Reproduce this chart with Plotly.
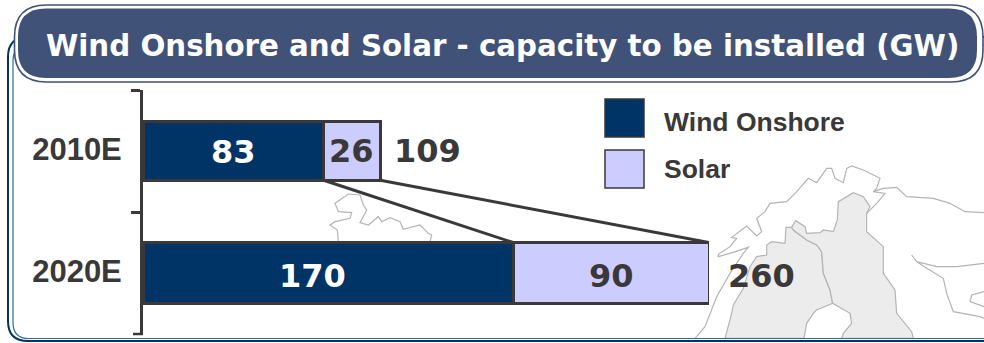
import plotly.graph_objects as go

years = ["2010E", "2020E"]
wind = [83, 170]
solar = [26, 90]
totals = [109, 260]
series_names = ["Wind Onshore", "Solar"]
title_text = "Wind Onshore and Solar - capacity to be installed (GW)"

W, H = 984, 343
L, R, T, B = 143, 709, 90, 334
NAVY, LAV, INK, GREY = "#003366", "#ccccff", "#3a3838", "#b4b4b4"
BAR_W = [0.48, 0.5]

def px(x): return (x - L) / (R - L)
def py(y): return 1 - (y - T) / (B - T)

def path(points, close=False):
    s = "M" + " L".join(f"{px(x):.5f},{py(y):.5f}" for x, y in points)
    return s + (" Z" if close else "")

def rrect(x0, y0, x1, y1, r):
    return (f"M{px(x0+r):.5f},{py(y0):.5f} L{px(x1-r):.5f},{py(y0):.5f} "
            f"Q{px(x1):.5f},{py(y0):.5f} {px(x1):.5f},{py(y0+r):.5f} "
            f"L{px(x1):.5f},{py(y1-r):.5f} Q{px(x1):.5f},{py(y1):.5f} {px(x1-r):.5f},{py(y1):.5f} "
            f"L{px(x0+r):.5f},{py(y1):.5f} Q{px(x0):.5f},{py(y1):.5f} {px(x0):.5f},{py(y1-r):.5f} "
            f"L{px(x0):.5f},{py(y0+r):.5f} Q{px(x0):.5f},{py(y0):.5f} {px(x0+r):.5f},{py(y0):.5f} Z")

def zm(points, ox=650, oy=150):
    return [(ox + a / 3, oy + b / 3) for a, b in points]

region_a = zm([(225,565),(245,490),(250,465),(280,415),(300,350),(320,320),(350,315),(350,285),(365,275),(405,280),(408,232),(425,232),(430,240),(470,270),(500,285),(515,305),(520,370),(540,420),(548,460),(500,480),(490,490),(470,520),(462,565)])
region_b = zm([(425,232),(437,212),(465,230),(470,250),(510,248),(520,240),(550,245),(562,210),(565,155),(610,128),(640,140),(660,170),(650,190),(650,245),(700,290),(700,370),(735,420),(740,490),(785,545),(790,565),(575,565),(580,550),(605,520),(600,490),(548,460),(540,420),(520,370),(515,305),(500,285),(470,270),(430,240)])
coast = zm([(135,565),(165,530),(200,440),(240,370),(280,310),(295,292),(240,310),(205,320),(205,313),(240,290),(260,265),(245,262),(290,228),(320,258),(335,245),(320,205),(345,185),(360,160),(410,155),(440,125),(475,85),(500,98),(530,55),(545,55),(555,85),(580,98),(590,55),(605,48),(640,60),(690,85),(680,115),(670,125),(700,115),(740,112),(770,140),(850,145),(900,160),(945,185),(1002,188)])
north = zm([(650,190),(680,160),(705,130),(670,125)])
east1 = zm([(1002,340),(920,350),(860,350),(800,335),(785,315),(800,335),(830,355),(880,385),(890,430),(910,485),(990,500),(1002,505)])
east2 = zm([(1002,425),(965,435),(960,455),(1002,470)])
small = zm([(55,215),(52,180),(30,165),(45,155),(90,145),(95,128),(55,125),(45,100),(85,72),(120,75),(130,105),(140,120),(120,158),(145,165),(175,140),(185,155),(210,143),(240,155),(250,178),(300,165),(325,190),(335,195),(330,215)], 320, 170)

shapes = []
def add(p, **kw):
    shapes.append(dict(type="path", path=p, xref="paper", yref="paper", layer="below", **kw))

# frame
add(rrect(8, 37, 1010, 341, 20), line=dict(color=NAVY, width=2), fillcolor="rgba(0,0,0,0)")
add(rrect(13, 45, 1010, 338.5, 16), fillcolor="white", line=dict(width=0))
# map
add(path(region_a, True), fillcolor="#ececec", line=dict(color=GREY, width=1.2))
add(path(region_b, True), fillcolor="#ececec", line=dict(color=GREY, width=1.2))
for pts in (coast, north, east1, east2, small):
    add(path(pts), line=dict(color=GREY, width=1.2))
# inner frame line over the map
add(rrect(13, 45, 1010, 338.5, 16), line=dict(color="#2f6aa0", width=1.2), fillcolor="rgba(0,0,0,0)")
# title pill
add(rrect(14.5, 5, 983, 82, 32), fillcolor="white", line=dict(color="#3f5278", width=1.6))
add(rrect(18, 8.5, 977, 78, 28), fillcolor="#415278", line=dict(width=0))

# closing tick of the bracket
shapes.append(dict(type="line", xref="paper", yref="paper", x0=px(133), x1=px(143), y0=py(334), y1=py(334),
                   line=dict(color=INK, width=2.5), layer="above"))

# connectors
for a, b in ((wind[0], wind[1]), (totals[0], totals[1])):
    shapes.append(dict(type="line", xref="x", yref="y", x0=a, y0=BAR_W[0] / 2, x1=b, y1=1 - BAR_W[1] / 2,
                       line=dict(color=INK, width=3), layer="above"))

# legend swatches
for (y0, y1), col in (((99, 137), NAVY), ((150, 188), LAV)):
    shapes.append(dict(type="rect", xref="paper", yref="paper", x0=px(605), x1=px(644), y0=py(y1), y1=py(y0),
                       fillcolor=col, line=dict(color=INK, width=1.5), layer="above"))

fig = go.Figure()
fig.add_bar(name=series_names[0], y=years, x=wind, orientation="h", width=BAR_W,
            marker=dict(color=NAVY, line=dict(color=INK, width=3)), cliponaxis=False)
fig.add_bar(name=series_names[1], y=years, x=solar, orientation="h", width=BAR_W,
            marker=dict(color=LAV, line=dict(color=INK, width=3)), cliponaxis=False)

ann = []
VALUE_FONT = dict(family="DejaVu Sans", size=32, weight="bold")
yshifts = [0, -3]
for i, yr in enumerate(years):
    ann.append(dict(x=wind[i] / 2, y=yr, xref="x", yref="y", text=str(wind[i]), showarrow=False,
                    xanchor="center", yanchor="middle", xshift=[0, -16][i], yshift=[-1, -3][i],
                    font=dict(color="white", **VALUE_FONT)))
    ann.append(dict(x=wind[i] + solar[i] / 2, y=yr, xref="x", yref="y", text=str(solar[i]), showarrow=False,
                    xanchor="center", yanchor="middle", yshift=yshifts[i],
                    font=dict(color=INK, **VALUE_FONT)))
    ann.append(dict(x=totals[i], y=yr, xref="x", yref="y", text=str(totals[i]), showarrow=False,
                    xanchor="left", yanchor="middle", xshift=[12, 17][i], yshift=yshifts[i],
                    font=dict(color=INK, **VALUE_FONT)))
ann.append(dict(x=px(502.5), y=py(46), xref="paper", yref="paper", text=title_text, showarrow=False,
                xanchor="center", yanchor="middle",
                font=dict(family="DejaVu Sans", size=29.3, color="white", weight="bold")))
for name, yy in zip(series_names, (122, 169)):
    ann.append(dict(x=px(662), y=py(yy), xref="paper", yref="paper", text=name, showarrow=False, xanchor="left", yanchor="middle",
                    font=dict(family="Liberation Sans", size=26.5, color=INK, weight="bold")))

fig.update_layout(
    width=W, height=H, barmode="stack", showlegend=False, bargap=0.5,
    margin=dict(l=L, r=W - R, t=T, b=H - B, pad=0),
    paper_bgcolor="white", plot_bgcolor="rgba(0,0,0,0)",
    xaxis=dict(range=[0, 260], visible=False),
    yaxis=dict(type="category", categoryorder="array", categoryarray=years, autorange="reversed",
               tickson="boundaries", ticks="outside", ticklen=9, tickwidth=2.5, tickcolor=INK,
               showline=True, linecolor=INK, linewidth=3, showgrid=False, zeroline=False,
               ticklabelstandoff=12, ticklabelshift=2,
               tickfont=dict(family="Liberation Sans", size=31, color=INK, weight="bold")),
    shapes=shapes, annotations=ann,
)
fig.write_html("out.html", config=dict(displayModeBar=False),
               post_script="document.body.style.margin='0';document.body.style.overflow='hidden';")
